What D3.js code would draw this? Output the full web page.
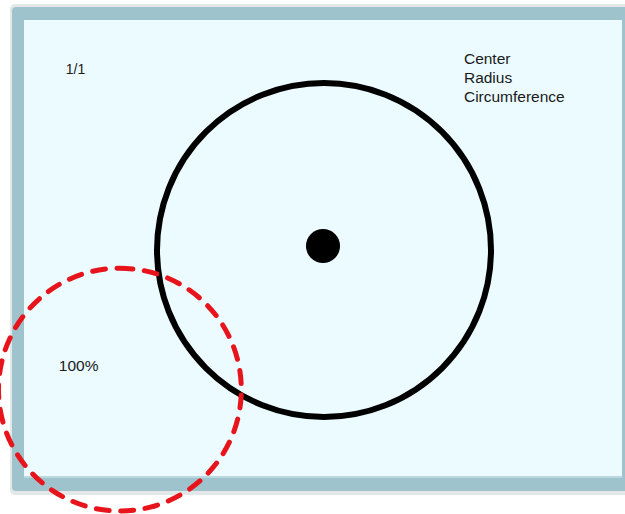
<!DOCTYPE html>
<html>
<head>
<meta charset="utf-8">
<script src="https://cdn.jsdelivr.net/npm/d3@7"></script>
<style>
  html, body { margin: 0; padding: 0; background: #ffffff; }
  svg { display: block; }
  text { font-family: "Liberation Sans", Arial, sans-serif; fill: #1a1a1a; }
</style>
</head>
<body>
<div id="chart"></div>
<script>
// shapes, in units of the big circle's radius (center of big circle = 0,0)
var shapeNames = ["circumference", "center", "dashed"];
var shapeX = [0, -0.006, -1.222];
var shapeY = [0, -0.024, 0.836];
var shapeR = [1, 0.102, 0.727];

// labels, same units
var labelTexts = ["1/1", "Center", "Radius", "Circumference", "100%"];
var labelX = [-1.546, 0.838, 0.838, 0.838, -1.588];
var labelY = [-1.051, -1.114, -0.998, -0.884, 0.725];

var width = 625, height = 514;
var unit = 167;          // pixels per unit
var originX = 324, originY = 250;

var svg = d3.select("#chart").append("svg")
  .attr("width", width)
  .attr("height", height);

var x = d3.scaleLinear().domain([0, 1]).range([originX, originX + unit]);
var y = d3.scaleLinear().domain([0, 1]).range([originY, originY + unit]);
var r = function(v) { return x(v) - x(0); };

// frame: soft shadow, border, light interior
svg.append("rect")
  .attr("x", 10).attr("y", 4)
  .attr("width", 640).attr("height", 491)
  .attr("rx", 5)
  .attr("fill", "#e4e7e8");

svg.append("rect")
  .attr("x", 12).attr("y", 7)
  .attr("width", 640).attr("height", 484)
  .attr("rx", 4)
  .attr("fill", "#9ec3cd");

svg.append("rect")
  .attr("x", 24).attr("y", 20)
  .attr("width", 598).attr("height", 458)
  .attr("fill", "#b9d8df");

svg.append("rect")
  .attr("x", 24).attr("y", 20)
  .attr("width", 598).attr("height", 456)
  .attr("fill", "#ebfbff");

// big circle
svg.append("circle")
  .attr("cx", x(shapeX[0]))
  .attr("cy", y(shapeY[0]))
  .attr("r", r(shapeR[0]))
  .attr("fill", "none")
  .attr("stroke", "#000")
  .attr("stroke-width", 6);

// center dot
svg.append("circle")
  .attr("cx", x(shapeX[1]))
  .attr("cy", y(shapeY[1]))
  .attr("r", r(shapeR[1]))
  .attr("fill", "#000");

// red dashed circle
svg.append("circle")
  .attr("cx", x(shapeX[2]))
  .attr("cy", y(shapeY[2]))
  .attr("r", r(shapeR[2]))
  .attr("fill", "none")
  .attr("stroke", "#e8141c")
  .attr("stroke-width", 5)
  .attr("stroke-dasharray", "13,11.5")
  .attr("stroke-linecap", "round")
  .attr("transform", "rotate(-90," + x(shapeX[2]) + "," + y(shapeY[2]) + ")");

// labels
svg.selectAll(".label")
  .data(labelTexts)
  .enter()
  .append("text")
  .attr("class", "label")
  .attr("x", (d, i) => x(labelX[i]))
  .attr("y", (d, i) => y(labelY[i]))
  .attr("font-size", (d, i) => i == 0 ? 14 : 15.5)
  .text(d => d);
</script>
</body>
</html>
